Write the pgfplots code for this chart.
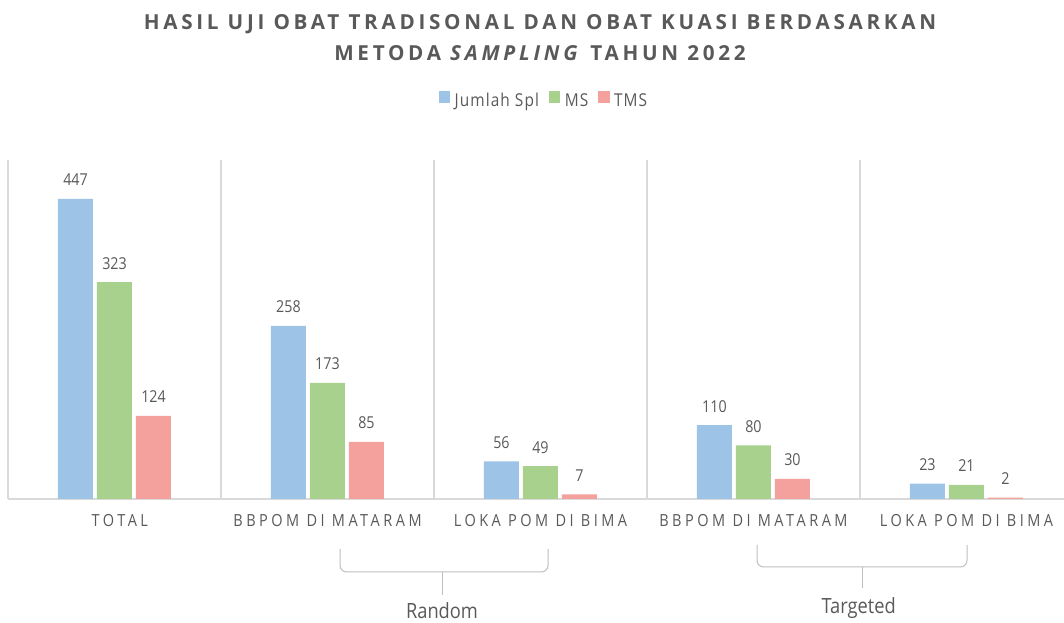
\documentclass[border=0pt]{standalone}
\usepackage{fontspec}
\setmainfont[FakeStretch=0.87]{Open Sans}
\newfontfamily\spacedfont[FakeStretch=0.87, LetterSpace=21]{Open Sans}
\newfontfamily\legendfont[FakeStretch=0.87, LetterSpace=6]{Open Sans}
\newfontfamily\titlefont[LetterSpace=18]{Open Sans}
\usepackage{pgfplots}
\pgfplotsset{compat=1.18}
\definecolor{cblue}{HTML}{9DC3E6}
\definecolor{cgreen}{HTML}{A9D18E}
\definecolor{cred}{HTML}{F4A09C}
\definecolor{txt}{HTML}{595959}
\definecolor{gridc}{HTML}{D9D9D9}
\definecolor{bracec}{HTML}{BFBFBF}
\begin{document}
\begin{tikzpicture}
\useasboundingbox (-6pt,-93pt) rectangle (792pt,374.25pt);
\begin{axis}[
  at={(0,0)}, anchor=south west, scale only axis,
  width=792pt, height=254.25pt,
  xmin=-0.5, xmax=4.458, ymin=0, ymax=505,
  ybar=3pt, bar width=26.25pt,
  axis x line*=bottom, axis y line=none,
  x axis line style={gridc, line width=1.2pt, -},
  xtick={0,1,2,3,4},
  xticklabels={\hspace*{8pt}TOTAL, BBPOM DI MATARAM, LOKA POM DI BIMA, BBPOM DI MATARAM, LOKA POM DI BIMA},
  major tick length=0pt,
  x tick label style={font=\spacedfont\fontsize{12.5}{14}\selectfont, text=txt, anchor=base, yshift=-21pt},
  extra x ticks={-0.5,0.5,1.5,2.5,3.5},
  extra x tick labels={},
  extra x tick style={grid=major, major grid style={gridc, line width=0.9pt}, major tick length=0pt},
  /pgf/number format/assume math mode=true,
  nodes near coords,
  nodes near coords style={font=\fontsize{12.3}{14}\selectfont, text=txt, anchor=base, yshift=9.75pt},
  legend style={at={(0.5076,1.174)}, anchor=center, draw=none, fill=none,
    legend columns=3, font=\legendfont\fontsize{13.3}{15}\selectfont, text=txt,
    /tikz/every even column/.append style={column sep=6pt},
    nodes={inner sep=1.5pt}},
  legend image code/.code={\fill[#1] (0pt,-1.2pt) rectangle (8.6pt,7.4pt); \path (10.4pt,3pt);},
  clip=false,
]
\addplot[fill=cblue, draw=none] coordinates {(0,447)(1,258)(2,56)(3,110)(4,23)};
\addplot[fill=cgreen, draw=none] coordinates {(0,323)(1,173)(2,49)(3,80)(4,21)};
\addplot[fill=cred, draw=none] coordinates {(0,124)(1,85)(2,7)(3,30)(4,2)};
\legend{Jumlah Spl, MS, TMS}
\end{axis}
\node[font=\titlefont\bfseries\fontsize{15.5}{23.25}\selectfont, text=txt, align=center] at (399pt,346.1pt)
  {HASIL UJI OBAT TRADISONAL DAN OBAT KUASI BERDASARKAN\\METODA \textit{SAMPLING} TAHUN 2022};
% group braces
\draw[bracec, line width=0.75pt, rounded corners=5pt] (249pt,-37.5pt) -- (249pt,-54.75pt) -- (405pt,-54.75pt) -- (405pt,-37.5pt);
\draw[bracec, line width=0.75pt] (325.5pt,-54.75pt) -- (325.5pt,-72pt);
\draw[bracec, line width=0.75pt, rounded corners=5pt] (561.75pt,-34.5pt) -- (561.75pt,-51pt) -- (719.25pt,-51pt) -- (719.25pt,-34.5pt);
\draw[bracec, line width=0.75pt] (640.5pt,-51pt) -- (640.5pt,-66.75pt);
\node[font=\fontsize{15.75}{18}\selectfont, text=txt, anchor=base] at (325.5pt,-90pt) {Random};
\node[font=\fontsize{15.75}{18}\selectfont, text=txt, anchor=base] at (638pt,-86.25pt) {Targeted};
\end{tikzpicture}
\end{document}
